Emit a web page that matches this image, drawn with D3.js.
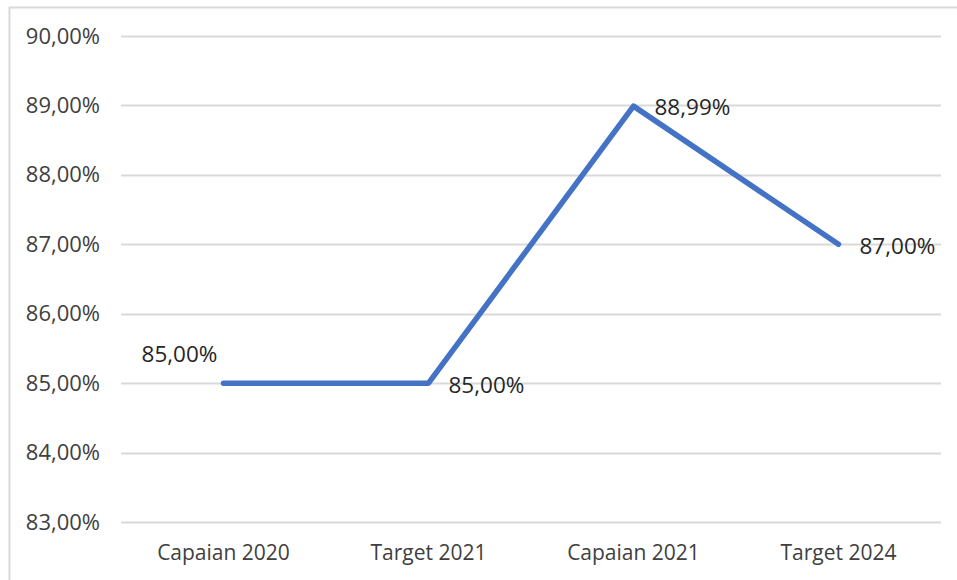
<!DOCTYPE html>
<html>
<head>
<meta charset="utf-8">
<script src="https://cdn.jsdelivr.net/npm/d3@7"></script>
<style>
  body { margin: 0; background: #fff; }
  svg text { font-family: "Open Sans", "Liberation Sans", sans-serif; fill: #404040; }
</style>
</head>
<body>
<div id="chart"></div>
<script>
// chart data
var categories = ['Capaian 2020', 'Target 2021', 'Capaian 2021', 'Target 2024']
var values = [85.00, 85.00, 88.99, 87.00]
var labels = ['85,00%', '85,00%', '88,99%', '87,00%']
var yTicks = [83, 84, 85, 86, 87, 88, 89, 90]

var width = 957, height = 580
var margin = {top: 36, right: 16, bottom: 58, left: 121}

var svg = d3.select('#chart').append('svg')
  .attr('width', width)
  .attr('height', height)

// outer frame
svg.append('rect')
  .attr('x', 9.5).attr('y', 7.5)
  .attr('width', width).attr('height', height)
  .style('fill', 'none')
  .style('stroke', '#d9d9d9')
  .style('stroke-width', 2)

var x = d3.scaleBand()
  .domain(categories)
  .range([margin.left, width - margin.right])

var y = d3.scaleLinear()
  .domain([83, 90])
  .range([height - margin.bottom, margin.top])

// gridlines
svg.append('g').selectAll('line')
  .data(yTicks).enter()
  .append('line')
  .attr('x1', margin.left)
  .attr('x2', width - margin.right)
  .attr('y1', function(d){ return Math.round(y(d)) + 0.5 })
  .attr('y2', function(d){ return Math.round(y(d)) + 0.5 })
  .style('stroke', '#d9d9d9')
  .style('stroke-width', 2)

// y axis labels
var yAxis = d3.axisLeft(y)
  .tickValues(yTicks)
  .tickSize(0)
  .tickPadding(21)
  .tickFormat(function(d){ return d3.format('.2f')(d).replace('.', ',') + '%' })

svg.append('g')
  .attr('transform', 'translate(' + margin.left + ',0)')
  .call(yAxis)
  .call(function(g){ g.select('.domain').remove() })
  .selectAll('text')
  .style('font-size', '22px')

// x axis labels
var xAxis = d3.axisBottom(x).tickSize(0).tickPadding(23)
svg.append('g')
  .attr('transform', 'translate(0,' + (height - margin.bottom) + ')')
  .call(xAxis)
  .call(function(g){ g.select('.domain').remove() })
  .selectAll('text')
  .style('font-size', '21px')

// line
var line = d3.line()
  .x(function(d, i){ return x(categories[i]) + x.bandwidth() / 2 })
  .y(function(d){ return y(d) })

svg.append('path')
  .datum(values)
  .attr('d', line)
  .style('fill', 'none')
  .style('stroke', '#4472c4')
  .style('stroke-width', 5.5)
  .style('stroke-linecap', 'round')
  .style('stroke-linejoin', 'round')

// data labels, offsets roughly as in the original
var offsets = [[-44, -21, 'middle'], [20, 10, 'start'], [21, 9, 'start'], [21, 10, 'start']]
svg.append('g').selectAll('text')
  .data(values).enter()
  .append('text')
  .attr('x', function(d, i){ return x(categories[i]) + x.bandwidth() / 2 + offsets[i][0] })
  .attr('y', function(d, i){ return y(d) + offsets[i][1] })
  .attr('text-anchor', function(d, i){ return offsets[i][2] })
  .style('font-size', '22.5px')
  .style('fill', '#262626')
  .text(function(d, i){ return labels[i] })
</script>
</body>
</html>
